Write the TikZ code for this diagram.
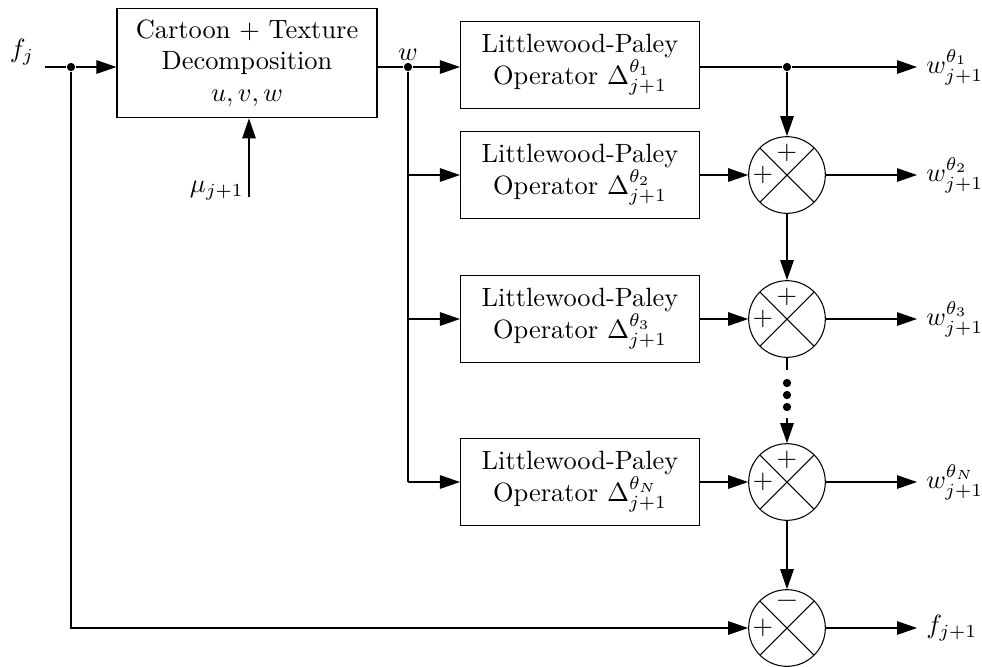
\documentclass[tikz,border=0pt]{standalone}
\usetikzlibrary{arrows.meta,positioning,calc}

\tikzset{
  block/.style={draw, align=center, minimum width=3.18cm, minimum height=1.16cm},
  summer/.style={draw, circle, minimum size=1.02cm, inner sep=0pt,
    path picture={\draw (path picture bounding box.north west) -- (path picture bounding box.south east)
                        (path picture bounding box.north east) -- (path picture bounding box.south west);}},
  junction/.style={circle, fill, inner sep=0pt, minimum size=1.1mm},
  bigdot/.style={circle, fill, inner sep=0pt, minimum size=1.1mm},
}

\begin{document}
\begin{tikzpicture}[x=0.0133cm, y=-0.0133cm, line width=0.4pt, >={Triangle[length=2.66mm, width=1.8mm]}]
\useasboundingbox (0,0) rectangle (982,666);
\newcommand{\Colx}{787} % x of the summing column
\newcommand{\Outx}{917} % x of the output arrow tips

% input and decomposition
\node (fj) at (22,52) {$f_j$};
\coordinate (in) at (45,67);
\node[junction] (split) at (71,67) {};
\node[block, minimum width=3.46cm, minimum height=1.46cm] (decomp) at (247,63) {Cartoon + Texture\\Decomposition\\$u,v,w$};
\coordinate (muin) at (249,197);
\node[left] (mu) at (253,191) {$\mu_{j+1}$};

\draw[->] (in) -- (split) -- (split -| decomp.west);
\draw[->] (muin) -- (muin |- decomp.south);

% w branch
\node[junction] (wsplit) at (408,67) {};
\node[above=-1pt] (wlab) at (wsplit) {$w$};
\draw (decomp.east |- wsplit) -- (wsplit);

% Littlewood-Paley operators
\foreach \i/\y/\t in {1/65/1, 2/175/2, 3/319/3, 4/482/N} {
  \node[block] (lp\i) at (580,\y) {Littlewood-Paley\\Operator $\Delta^{\theta_{\t}}_{j+1}$};
}
\foreach \i/\y/\t in {1/67/1, 2/175/2, 3/319/3, 4/482/N} {
  \node[right] (w\i) at (\Outx,\y) {$w^{\theta_{\t}}_{j+1}$};
}
\draw[->] (wsplit) -- (wsplit -| lp1.west);
\draw (wsplit) -- (wsplit |- lp4);
\foreach \i in {2,3,4} \draw[->] (wsplit |- lp\i) -- (lp\i);

% summing column
\node[junction] (tap) at (\Colx,67) {};
\foreach \i/\y in {2/175, 3/319, 4/482} {
  \node[summer] (sum\i) at (\Colx,\y) {};
  \node at ([yshift=0.29cm]sum\i.center) {$+$};
  \node at ([xshift=-0.32cm]sum\i.center) {$+$};
}
\node[summer] (sumf) at (\Colx,628) {};
\node at ([yshift=0.31cm]sumf.center) {\large\textbf{--}};
\node at ([xshift=-0.32cm]sumf.center) {$+$};
\node[right] (fout) at (\Outx,628) {$f_{j+1}$};

\draw (lp1.east |- tap) -- (tap);
\draw[->] (tap) -- (w1);
\foreach \i in {2,3,4} {
  \draw[->] (lp\i) -- (sum\i);
  \draw[->] (sum\i) -- (w\i);
}
\draw[->] (tap) -- (sum2);
\draw[->] (sum2) -- (sum3);

% dots between theta_3 and theta_N
\coordinate (dotstop) at (\Colx,370);
\coordinate (dotsbot) at (\Colx,418);
\draw (sum3) -- (dotstop);
\foreach \y in {383,395,407} \node[bigdot] (dot\y) at (\Colx,\y) {};
\draw[->] (dotsbot) -- (sum4);
\draw[->] (sum4) -- (sumf);

% residual
\draw[->] (split) -- (split |- sumf) -- (sumf);
\draw[->] (sumf) -- (fout);
\end{tikzpicture}
\end{document}
